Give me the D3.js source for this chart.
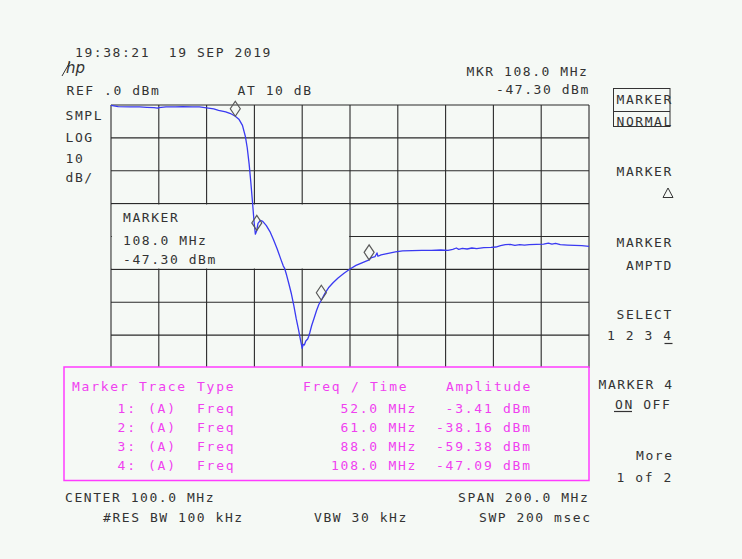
<!DOCTYPE html>
<html>
<head>
<meta charset="utf-8">
<script src="https://cdn.jsdelivr.net/npm/d3@7/dist/d3.min.js"></script>
<style>
  html, body { margin: 0; padding: 0; background: #f5f9f5; }
  svg { display: block; }
  text { font-family: "DejaVu Sans Mono", monospace; font-size: 13px; letter-spacing: 1.55px; white-space: pre; }
  text.tbl { letter-spacing: 1.75px; }
</style>
</head>
<body>
<svg id="scr" width="742" height="559"></svg>
<script>
// Sweep settings: 0-200 MHz span, 0 dBm reference, 10 dB/div, 8 divisions
const freqDomain = [0, 200];
const levelDomain = [0, -80];
const freqTicks = d3.range(0, 201, 20);
const levelTicks = d3.range(0, -81, -10);

// Trace A samples (MHz, dBm)
const traceFreq = [0, 3, 8, 12, 15, 18, 19.5, 20, 23, 27, 30, 34, 37, 40, 43, 45, 48, 50, 52,
  53.5, 55, 56.2, 57, 57.8, 58.5, 59.2, 59.8, 60.0, 60.4, 61.0, 61.5, 62.5, 63.5, 65, 66.5,
  68, 69.5, 71, 72.1, 72.6, 73.5, 74.5, 75.5, 76.5, 77.5, 78.5, 79.3, 80.0, 80.4, 80.9, 81.5,
  82.3, 82.7, 83.2, 84.0, 85.0, 86.0, 87.0, 88.0, 89.5, 91, 93, 95, 97.5, 100, 102.5, 105,
  107, 108, 109, 110.5, 111.3, 111.7, 113, 116, 119, 122, 126, 130, 134, 138, 141, 143,
  144.5, 145.5, 147, 149, 151, 153, 156, 159, 161, 163, 165, 167, 169, 171, 173, 175, 178,
  181, 183, 184.5, 186, 188, 191, 194, 197, 200];
const traceLevel = [-0.1, -0.5, -0.6, -0.6, -0.7, -0.8, -0.95, -0.8, -0.6, -0.55, -0.5, -0.55,
  -0.6, -0.9, -1.2, -1.6, -2.1, -2.6, -3.41,
  -4.3, -6.2, -9.5, -13, -18, -23.5, -29.5, -35, -36.5, -39.3, -38.16, -36, -35.1, -35.4,
  -36.7, -38.5, -41, -43.7, -46.8, -49.0, -49.6, -51.8, -54.6, -57.5, -61, -65, -68.5, -71.5,
  -74, -72.8, -73.0, -71.8, -71.2, -70.4, -69.2, -67.0, -64.8, -62.5, -60.6, -59.38, -57.3,
  -55.6, -54, -52.6, -51.2, -49.9, -48.8, -48.0, -47.4, -47.09, -46.4, -46.1, -45.0, -46.0,
  -45.6, -45.1, -44.7, -44.4, -44.3, -44.2, -44.2, -44.1, -44.2, -43.9, -43.5, -43.9, -43.6,
  -43.8, -43.5, -43.7, -43.4, -43.3, -43.2, -42.8, -42.5, -42.4, -42.7, -42.5, -42.6, -42.5,
  -42.4, -42.3, -42.0, -42.3, -42.1, -42.5, -42.6, -42.7, -42.8, -43.0];

// Marker table
const markerNum = [1, 2, 3, 4];
const markerFreq = [52.0, 61.0, 88.0, 108.0];
const markerAmp = [-3.41, -38.16, -59.38, -47.09];

const BG = "#f5f9f5", INK = "#333333", GRID = "#2a2a2a", MAG = "#ff3cff", MAGT = "#f040f0";

const svg = d3.select("#scr");
svg.append("rect").attr("width", 742).attr("height", 559).attr("fill", BG);

const x = d3.scaleLinear(freqDomain, [111, 589]);
const y = d3.scaleLinear(levelDomain, [105, 368]);

// Graticule
const grid = svg.append("g").attr("stroke", GRID).attr("stroke-width", 1.1);
grid.selectAll("line.v").data(freqTicks).join("line").attr("class", "v")
  .attr("x1", d => x(d)).attr("x2", d => x(d)).attr("y1", y(0)).attr("y2", y(-80));
grid.selectAll("line.h").data(levelTicks).join("line").attr("class", "h")
  .attr("x1", x(0)).attr("x2", x(200)).attr("y1", d => y(d)).attr("y2", d => y(d));

// Active-marker readout window blanks the graticule behind it
svg.append("rect")
  .attr("x", x(0) + 0.9).attr("y", y(-30) + 0.9)
  .attr("width", x(100) - x(0) - 1.8).attr("height", y(-50) - y(-30) - 1.8)
  .attr("fill", BG);

// Trace
const pts = traceFreq.map((f, i) => [f, traceLevel[i]]);
svg.append("path").datum(pts)
  .attr("fill", "none").attr("stroke", "#3a3af2").attr("stroke-width", 1.3)
  .attr("stroke-linejoin", "round")
  .attr("d", d3.line().x(d => x(d[0])).y(d => y(d[1])));

// Marker diamonds, bottom tip on the marker position
svg.selectAll("path.mk").data(markerFreq.map((f, i) => [f, markerAmp[i]])).join("path")
  .attr("class", "mk")
  .attr("fill", "none").attr("stroke", "#5a5a5a").attr("stroke-width", 1.2)
  .attr("d", d => {
    const px = x(d[0]), py = y(d[1]);
    return `M${px},${py} L${px - 5},${py - 7.5} L${px},${py - 15} L${px + 5},${py - 7.5} Z`;
  });

// Plain text helper
function label(str, tx, ty, color, cls) {
  return svg.append("text").attr("x", tx).attr("y", ty).attr("fill", color || INK)
    .attr("class", cls || null).text(str);
}

// Header
label("19:38:21  19 SEP 2019", 75, 57);
const logo = svg.append("g");
logo.append("text").attr("x", 66).attr("y", 73).attr("fill", INK)
  .style("font-family", "DejaVu Sans").style("font-style", "italic").style("font-size", "15px")
  .style("letter-spacing", "0px").text("hp");
logo.append("line").attr("x1", 62).attr("y1", 76).attr("x2", 70).attr("y2", 62)
  .attr("stroke", INK).attr("stroke-width", 1);
label("REF .0 dBm", 66.5, 95);
label("AT 10 dB", 237.5, 95);
label("MKR 108.0 MHz", 466.5, 76);
label("-47.30 dBm", 496, 94);
label("SMPL", 65.5, 119.5);
label("LOG", 65.5, 142);
label("10", 65.5, 162.5);
label("dB/", 65.5, 181.5);

// Readout inside the graticule
label("MARKER", 123, 222);
label("108.0 MHz", 123, 245);
label("-47.30 dBm", 123, 264);

// Softkey labels
svg.append("rect").attr("x", 613.5).attr("y", 88.5).attr("width", 56.5).attr("height", 38)
  .attr("fill", "none").attr("stroke", INK).attr("stroke-width", 1);
svg.append("line").attr("x1", 613.5).attr("x2", 670).attr("y1", 111.5).attr("y2", 111.5)
  .attr("stroke", INK).attr("stroke-width", 1);
label("MARKER", 616.5, 103.5);
label("NORMAL", 616.5, 125.5);
label("MARKER", 616.5, 176);
svg.append("path").attr("d", "M663,197.5 L673,197.5 L668,188 Z")
  .attr("fill", "none").attr("stroke", INK).attr("stroke-width", 1);
label("MARKER", 616.5, 246.5);
label("AMPTD", 626, 269.5);
label("SELECT", 616.5, 318.5);
label("1 2 3 4", 607, 340);
svg.append("line").attr("x1", 664.5).attr("x2", 672.5).attr("y1", 343.5).attr("y2", 343.5)
  .attr("stroke", INK).attr("stroke-width", 1.2);
label("MARKER 4", 598.5, 388.5);
label("ON OFF", 615, 408.5);
svg.append("line").attr("x1", 614).attr("x2", 632).attr("y1", 411.5).attr("y2", 411.5)
  .attr("stroke", INK).attr("stroke-width", 1.2);
label("More", 636, 460);
label("1 of 2", 616.5, 481.5);

// Footer
label("CENTER 100.0 MHz", 65, 501.5);
label("SPAN 200.0 MHz", 458, 501.5);
label("#RES BW 100 kHz", 103, 522);
label("VBW 30 kHz", 314, 522);
label("SWP 200 msec", 479, 522);

// Marker table window
svg.append("rect").attr("x", 64).attr("y", 367).attr("width", 525).attr("height", 113.5)
  .attr("fill", BG).attr("stroke", MAG).attr("stroke-width", 1.5);
label("Marker", 72, 391, MAGT, "tbl");
label("Trace", 139, 391, MAGT, "tbl");
label("Type", 197, 391, MAGT, "tbl");
label("Freq / Time", 303, 391, MAGT, "tbl");
label("Amplitude", 446, 391, MAGT, "tbl");
const rowY = [413, 432, 451, 470];
markerNum.forEach((n, i) => {
  label(n + ":", 117.6, rowY[i], MAGT, "tbl");
  label("(A)", 148, rowY[i], MAGT, "tbl");
  label("Freq", 197, rowY[i], MAGT, "tbl");
  const fs = markerFreq[i].toFixed(1).padStart(5, " ") + " MHz";
  label(fs, 331, rowY[i], MAGT, "tbl");
  const as = markerAmp[i].toFixed(2).padStart(6, " ") + " dBm";
  label(as, 436, rowY[i], MAGT, "tbl");
});
</script>
</body>
</html>
